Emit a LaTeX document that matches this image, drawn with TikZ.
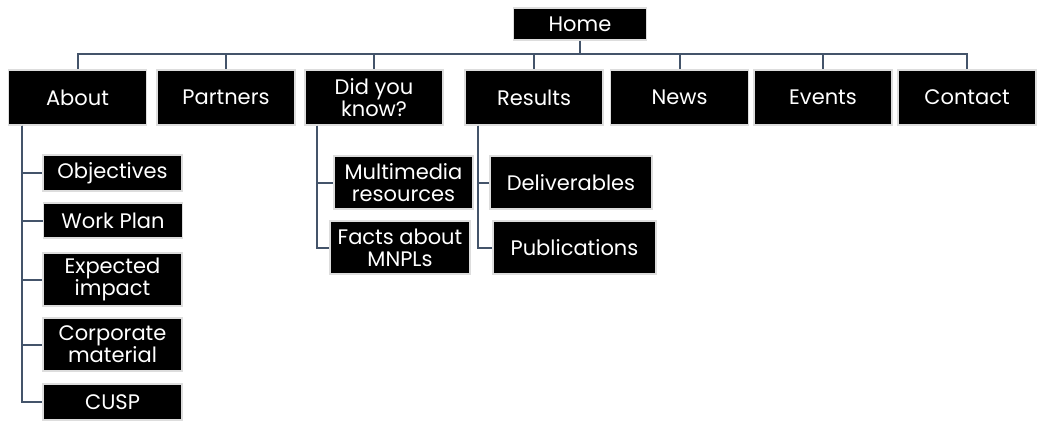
\documentclass[tikz,border=0pt]{standalone}
\usepackage{fontspec}
\setmainfont{Poppins}
\usetikzlibrary{positioning, calc}
\definecolor{cline}{HTML}{44546A}
\definecolor{cedge}{HTML}{DDDDDD}
\tikzset{
  every picture/.style={font=\fontsize{21}{22}\selectfont, line width=1.2pt},
  box/.style={draw=cedge, fill=black, text=white, align=center, inner sep=0pt, line width=1.4pt, minimum width=#1, minimum height=53pt},
  box/.default=138pt,
  link/.style={draw=cline, line width=2pt},
}
\begin{document}
\begin{tikzpicture}[x=1pt, y=-1pt,
    top/.style={box, minimum height=55pt},
    leaf/.style={box=139pt},
    small/.style={leaf, minimum height=36pt},
  ]
  \useasboundingbox (0,0) rectangle (1043,423);

  % ---- top level
  \node[box=133pt, minimum height=32pt] (home) at (580,24) {Home};
  \node[top] (about) at (77.5,97.5)  {About};
  \node[top] (part)  at (226,97.5)   {Partners};
  \node[top] (dyk)   at (374,97.5)   {Did you\\know?};
  \node[top] (res)   at (534,97.5)   {Results};
  \node[top] (news)  at (679.5,97.5) {News};
  \node[top] (evt)   at (823,97.5)   {Events};
  \node[top] (cont)  at (967,97.5)   {Contact};

  % ---- about
  \node[small] (obj)  at (112.5,173)   {Objectives};
  \node[small, minimum height=35pt] (plan) at (113,220.5) {Work Plan};
  \node[leaf]  (imp)  at (112.5,279.5) {Expected\\impact};
  \node[leaf]  (corp) at (112.5,344.5) {Corporate\\material};
  \node[small] (cusp) at (112.5,402)   {CUSP};

  % ---- did you know / results
  \node[leaf] (mm)    at (403.5,182.5) {Multimedia\\resources};
  \node[box=140pt] (facts) at (400,247.5) {Facts about\\MNPLs};
  \node[box=162pt] (deliv) at (571,182.5) {Deliverables};
  \node[box=163pt] (pub)   at (574.5,247.5) {Publications};

  % connectors
  \coordinate (bus) at (580,54);
  \draw[link] (home.south) -- (bus);
  \foreach \n in {about, part, dyk, res, news, evt, cont}
    \draw[link] (bus) -| (\n.north);
  \foreach \n in {obj, plan, imp, corp, cusp}
    \draw[link] ([xshift=14pt]about.south west) |- (\n.west);
  \foreach \n in {mm, facts}
    \draw[link] ([xshift=13pt]dyk.south west) |- (\n.west);
  \foreach \n in {deliv, pub}
    \draw[link] ([xshift=14pt]res.south west) |- (\n.west);
\end{tikzpicture}
\end{document}
